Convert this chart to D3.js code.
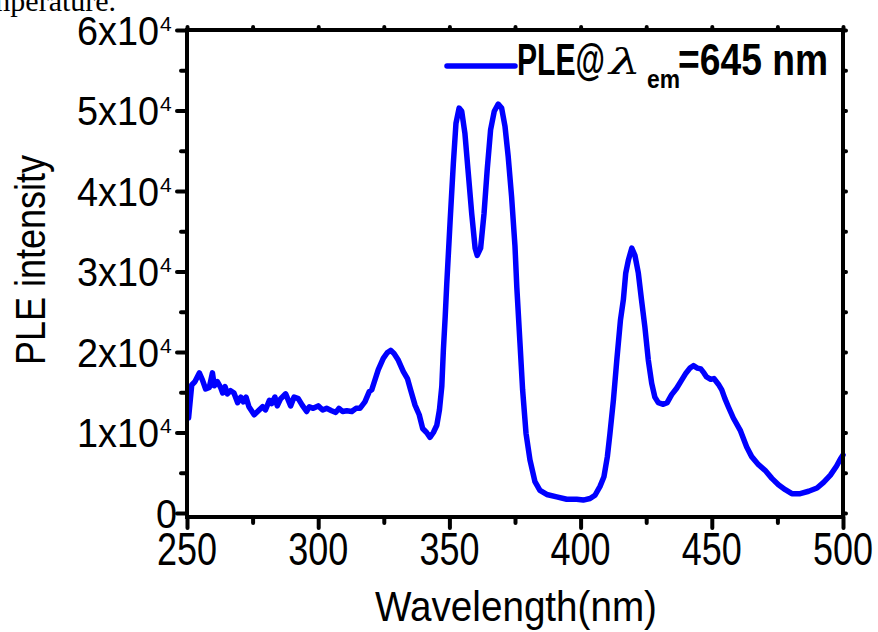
<!DOCTYPE html>
<html>
<head>
<meta charset="utf-8">
<script src="https://cdn.jsdelivr.net/npm/d3@7"></script>
<style>
  body { margin: 0; background: #fff; }
  svg { display: block; }
</style>
</head>
<body>
<svg></svg>
<script>
const width = 878;
const height = 632;

// PLE spectrum
const wavelength = [
  250.3, 250.6, 251.8, 253.0, 254.7, 255.9, 257.1, 258.5, 259.7, 260.4,
  261.6, 262.8, 263.6, 264.5, 265.4, 266.6, 267.9, 269.3, 270.5, 271.5,
  272.5, 273.6, 275.6, 277.2, 278.8, 279.9, 281.4, 282.3, 283.5, 284.4,
  285.7, 287.6, 289.5, 290.8, 292.4, 293.9, 295.6, 296.6, 298.1, 300.0,
  301.7, 303.2, 305.1, 306.7, 307.9, 309.3, 310.9, 312.8, 314.4, 315.9,
  317.8, 319.5, 320.4, 321.4, 322.9, 324.8, 326.3, 327.6, 328.9, 330.5,
  332.4, 334.0, 335.2, 336.9, 338.5, 339.8, 341.3, 342.6, 343.9, 345.2,
  346.2, 347.1, 347.7, 348.4, 349.0, 350.3, 351.5, 352.5, 353.7, 354.7,
  355.9, 357.2, 358.5, 359.8, 360.6, 361.9, 363.2, 364.4, 365.7, 367.1,
  368.6, 369.9, 371.2, 372.4, 373.7, 375.0, 375.7, 376.9, 377.9, 379.2,
  380.7, 382.6, 384.5, 387.1, 390.9, 394.7, 398.5, 401.0, 403.6, 405.5,
  407.4, 408.9, 410.2, 411.2, 412.5, 413.8, 415.2, 416.3, 417.2, 418.2,
  419.5, 420.7, 422.0, 423.2, 424.5, 425.8, 427.1, 428.3, 429.6, 431.5,
  433.0, 434.7, 436.6, 438.5, 440.2, 441.7, 443.0, 444.5, 445.8, 447.0,
  448.0, 449.6, 450.8, 452.5, 453.8, 455.0, 456.3, 458.2, 460.8, 463.3,
  465.2, 467.8, 470.3, 472.9, 475.4, 478.0, 480.5, 483.7, 486.9, 490.1,
  492.6, 495.2, 497.5, 499.0, 500.0
];
const intensity = [
  12800, 11800, 15900, 16300, 17400, 16500, 15400, 15600, 17400, 15800,
  16300, 15600, 14900, 15700, 14800, 15200, 14900, 13700, 14400, 13800,
  14400, 13200, 12200, 12700, 13200, 12800, 14000, 13600, 14400, 13300,
  14200, 14800, 13300, 14400, 14200, 13400, 12600, 13200, 13000, 13300,
  12800, 13000, 12700, 12500, 13000, 12600, 12700, 12600, 13000, 13000,
  13800, 15100, 15300, 16300, 17800, 19200, 19900, 20200, 19800, 19000,
  17600, 16700, 15300, 13400, 12200, 10500, 10000, 9400, 10000, 10900,
  12800, 15700, 20200, 24400, 28500, 36400, 43400, 48400, 50300, 49900,
  47200, 42200, 37200, 32900, 32000, 32900, 37200, 42600, 47600, 49900,
  50800, 50300, 48000, 44300, 39300, 33100, 28000, 21100, 15300, 9900,
  6600, 3900, 2800, 2300, 2000, 1700, 1700, 1600, 1800, 2200,
  3300, 4500, 7000, 9900, 14000, 19000, 24000, 26500, 29800, 31400,
  32900, 32000, 29800, 26500, 23100, 19000, 16100, 14400, 13700, 13500,
  13700, 14700, 15500, 16500, 17400, 18000, 18300, 18000, 17900, 17400,
  16900, 16600, 16700, 16000, 15300, 14200, 13200, 11800, 10300, 8200,
  7000, 6000, 5300, 4300, 3500, 2900, 2400, 2400, 2700, 3100,
  3800, 4700, 5800, 6700, 7200
];

const xMajor = [250, 300, 350, 400, 450, 500];
const xMinor = [275, 325, 375, 425, 475];
const yMajor = [0, 10000, 20000, 30000, 40000, 50000, 60000];
const yMinor = [5000, 15000, 25000, 35000, 45000, 55000];
const yMantissa = ["0", "1x10", "2x10", "3x10", "4x10", "5x10", "6x10"];
const yExponent = ["", "4", "4", "4", "4", "4", "4"];

const seriesName = "PLE@";
const seriesSymbol = "\u03bb";
const seriesSub = "em";
const seriesTail = "=645 nm";

const sans = "'Liberation Sans', Arial, Helvetica, sans-serif";

const x = d3.scaleLinear().domain([250, 500]).range([187, 843]);
const y = d3.scaleLinear().domain([-500, 60000]).range([517, 30]);

const svg = d3.select('svg')
  .attr('width', width)
  .attr('height', height);

// leftover caption from the page the figure was cut from
svg.append('text')
  .attr('x', -13)
  .attr('y', 11)
  .attr('font-family', "'Liberation Serif', 'Times New Roman', serif")
  .attr('font-size', 30)
  .attr('fill', '#000')
  .text('mperature.');

// the spectrum
const line = d3.line()
  .x((d, i) => x(wavelength[i]))
  .y(d => y(d));

svg.append('path')
  .datum(intensity)
  .attr('d', line)
  .attr('fill', 'none')
  .attr('stroke', '#0000ff')
  .attr('stroke-width', 5.5)
  .attr('stroke-linejoin', 'round')
  .attr('stroke-linecap', 'round');

// axes
function styleAxis(g) {
  g.select('.domain').remove();
  g.selectAll('.tick line')
    .attr('stroke', '#000')
    .attr('stroke-width', 4)
    .attr('stroke-linecap', 'round');
  g.selectAll('.tick text').remove();
}

svg.append('g')
  .attr('transform', `translate(${x.range()[0]},0)`)
  .call(d3.axisLeft(y).tickValues(yMajor).tickSize(10))
  .call(styleAxis);
svg.append('g')
  .attr('transform', `translate(${x.range()[0]},0)`)
  .call(d3.axisLeft(y).tickValues(yMinor).tickSize(6))
  .call(styleAxis);
svg.append('g')
  .attr('transform', `translate(${x.range()[1]},0)`)
  .call(d3.axisRight(y).tickValues(yMajor.concat(yMinor)).tickSize(3))
  .call(styleAxis);

svg.append('g')
  .attr('transform', `translate(0,${y.range()[0]})`)
  .call(d3.axisBottom(x).tickValues(xMajor).tickSize(11))
  .call(styleAxis);
svg.append('g')
  .attr('transform', `translate(0,${y.range()[0]})`)
  .call(d3.axisBottom(x).tickValues(xMinor).tickSize(6))
  .call(styleAxis);
svg.append('g')
  .attr('transform', `translate(0,${y.range()[1]})`)
  .call(d3.axisTop(x).tickValues(xMajor.concat(xMinor)).tickSize(3))
  .call(styleAxis);

// frame
svg.append('rect')
  .attr('x', x.range()[0])
  .attr('y', y.range()[1])
  .attr('width', x.range()[1] - x.range()[0])
  .attr('height', y.range()[0] - y.range()[1])
  .attr('fill', 'none')
  .attr('stroke', '#000')
  .attr('stroke-width', 4);

// y tick labels
const yLab = svg.append('g')
  .attr('font-family', sans)
  .attr('fill', '#000');

yMajor.forEach((v, i) => {
  const t = yLab.append('text')
    .attr('x', yExponent[i] ? 159 : 177)
    .attr('y', y(v) + 15)
    .attr('text-anchor', 'end')
    .attr('font-size', 40)
    .text(yMantissa[i]);
  if (yExponent[i]) {
    t.attr('textLength', 82).attr('lengthAdjust', 'spacingAndGlyphs');
    yLab.append('text')
      .attr('x', 160)
      .attr('y', y(v) + 1)
      .attr('font-size', 21)
      .text(yExponent[i]);
  } else {
    t.attr('textLength', 21).attr('lengthAdjust', 'spacingAndGlyphs');
  }
});

// x tick labels
svg.append('g')
  .selectAll('text')
  .data(xMajor)
  .enter().append('text')
    .attr('x', d => x(d))
    .attr('y', 565)
    .attr('text-anchor', 'middle')
    .attr('font-family', sans)
    .attr('font-size', 46)
    .attr('textLength', 60)
    .attr('lengthAdjust', 'spacingAndGlyphs')
    .text(d => d);

// axis titles
svg.append('text')
  .attr('x', 375)
  .attr('y', 621)
  .attr('font-family', sans)
  .attr('font-size', 42)
  .attr('textLength', 282)
  .attr('lengthAdjust', 'spacingAndGlyphs')
  .text('Wavelength(nm)');

svg.append('text')
  .attr('transform', 'translate(45,260) rotate(-90)')
  .attr('text-anchor', 'middle')
  .attr('font-family', sans)
  .attr('font-size', 42)
  .attr('textLength', 210)
  .attr('lengthAdjust', 'spacingAndGlyphs')
  .text('PLE intensity');

// legend
const legend = svg.append('g')
  .attr('font-family', sans)
  .attr('font-weight', 'bold')
  .attr('fill', '#000');

legend.append('line')
  .attr('x1', 447).attr('x2', 515)
  .attr('y1', 66).attr('y2', 66)
  .attr('stroke', '#0000ff')
  .attr('stroke-width', 5.5)
  .attr('stroke-linecap', 'round');

legend.append('text')
  .attr('x', 517).attr('y', 75)
  .attr('font-size', 44)
  .attr('textLength', 88)
  .attr('lengthAdjust', 'spacingAndGlyphs')
  .text(seriesName);

legend.append('text')
  .attr('x', 609).attr('y', 74)
  .attr('font-family', "'DejaVu Serif', 'Liberation Serif', serif")
  .attr('font-style', 'italic')
  .attr('font-weight', 'normal')
  .attr('font-size', 36)
  .attr('textLength', 32)
  .attr('lengthAdjust', 'spacingAndGlyphs')
  .text(seriesSymbol);

legend.append('text')
  .attr('x', 647).attr('y', 88)
  .attr('font-size', 26)
  .attr('textLength', 33)
  .attr('lengthAdjust', 'spacingAndGlyphs')
  .text(seriesSub);

legend.append('text')
  .attr('x', 678).attr('y', 75)
  .attr('font-size', 44)
  .attr('textLength', 150)
  .attr('lengthAdjust', 'spacingAndGlyphs')
  .text(seriesTail);
</script>
</body>
</html>
